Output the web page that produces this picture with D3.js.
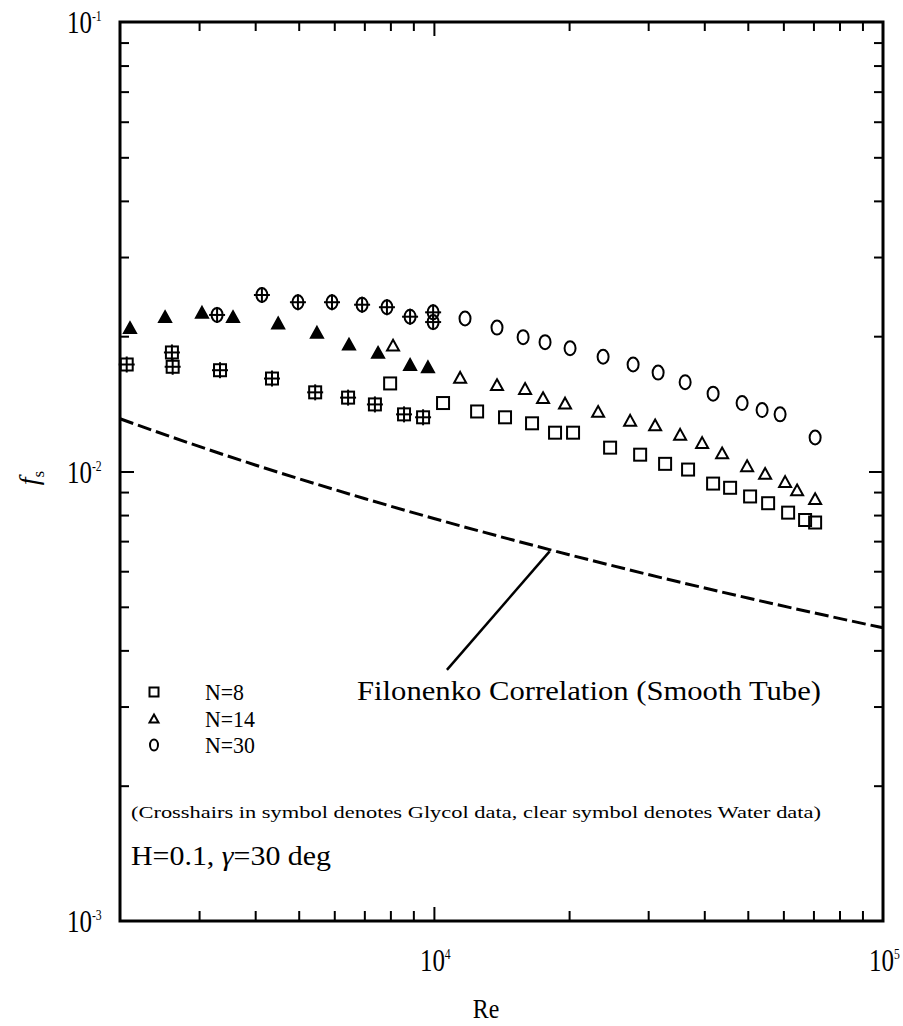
<!DOCTYPE html>
<html>
<head>
<meta charset="utf-8">
<script src="https://cdn.jsdelivr.net/npm/d3@7"></script>
<style>
  html, body { margin: 0; padding: 0; background: #fff; }
  svg { display: block; }
  text { font-family: "Liberation Serif", "Times New Roman", serif; fill: #000; }
</style>
</head>
<body>
<svg id="chart" width="903" height="1026"></svg>
<script>
// ---- data: friction factor vs Reynolds number ----
// N = 8 (squares)
const n8Glycol = [
  [2070, 0.0173], [2610, 0.0184], [2620, 0.0171], [3340, 0.0168], [4360, 0.0161],
  [5440, 0.0150], [6440, 0.0146], [7390, 0.0141], [8580, 0.0134], [9460, 0.0132]
];
const n8Water = [
  [7990, 0.0157], [10480, 0.0142], [12480, 0.0136], [14400, 0.0132], [16540, 0.0128],
  [18610, 0.0122], [20410, 0.0122], [24680, 0.0113], [28790, 0.0109], [32720, 0.0104],
  [36810, 0.0101], [41850, 0.0094], [45660, 0.0092], [50590, 0.0088], [55490, 0.0085],
  [61480, 0.0081], [67070, 0.0078], [70610, 0.0077]
];
// N = 14 (triangles)
const n14Glycol = [
  [2105, 0.0209], [2520, 0.0221], [3045, 0.0226], [3570, 0.0221], [4500, 0.0214],
  [5490, 0.0204], [6470, 0.0192], [7510, 0.0184], [8850, 0.0173], [9700, 0.0171]
];
const n14Water = [
  [8110, 0.0191], [11440, 0.0162], [13820, 0.0156], [15960, 0.0153], [17500, 0.0146],
  [19590, 0.0142], [23210, 0.0136], [27350, 0.0130], [31090, 0.0127], [35340, 0.0121],
  [39560, 0.0116], [43830, 0.0110], [49820, 0.0103], [54640, 0.0099], [60540, 0.0095],
  [64380, 0.0091], [70610, 0.0087]
];
// N = 30 (circles)
const n30Glycol = [
  [3290, 0.0223], [4140, 0.0247], [4980, 0.0238], [5930, 0.0238], [6920, 0.0235],
  [7860, 0.0232], [8850, 0.0221], [9960, 0.0226], [9960, 0.0215]
];
const n30Water = [
  [11730, 0.0219], [13820, 0.0209], [15800, 0.0199], [17680, 0.0194], [20100, 0.0188],
  [23810, 0.0180], [27770, 0.0173], [31570, 0.0166], [36260, 0.0158], [41850, 0.0149],
  [48560, 0.0142], [53800, 0.0137], [59000, 0.0134], [70610, 0.0119]
];
// Filonenko smooth-tube correlation curve
const filonenko = [
  [2000, 0.0131], [3000, 0.01137], [4000, 0.01034], [5000, 0.00964], [7000, 0.00871],
  [10000, 0.00786], [15000, 0.00704], [20000, 0.00653], [30000, 0.00590],
  [50000, 0.00523], [70000, 0.00485], [100000, 0.00449]
];
// leader from the caption to the curve
const leader = [[10690, 0.00362], [18100, 0.00664]];

const xTicks = [3000, 4000, 5000, 6000, 7000, 8000, 9000, 10000,
                20000, 30000, 40000, 50000, 60000, 70000, 80000, 90000];
const yTicks = [0.002, 0.003, 0.004, 0.005, 0.006, 0.007, 0.008, 0.009, 0.01,
                0.02, 0.03, 0.04, 0.05, 0.06, 0.07, 0.08, 0.09];
const xTickLabels = [[10000, "10", "4"], [100000, "10", "5"]];
const yTickLabels = [[0.1, "10", "-1"], [0.01, "10", "-2"], [0.001, "10", "-3"]];
const legendItems = [["square", "N=8"], ["triangle", "N=14"], ["circle", "N=30"]];

// ---- layout ----
const svg = d3.select("#chart");
const L = 120, R = 883, T = 22, B = 921;
const x = d3.scaleLog().domain([2000, 100000]).range([L, R]);
const y = d3.scaleLog().domain([0.001, 0.1]).range([B, T]);
const isMajor = v => Math.abs(Math.log10(v) - Math.round(Math.log10(v))) < 1e-9;

// ---- axes (ticks point inward on all four sides) ----
function cleanAxis(g) {
  g.select(".domain").remove();
  g.selectAll(".tick text").remove();
  return g.selectAll(".tick line").attr("stroke", "#000").attr("stroke-width", 2);
}
cleanAxis(svg.append("g").attr("transform", `translate(0,${B})`)
  .call(d3.axisTop(x).tickValues(xTicks).tickSize(0)))
  .attr("y2", d => isMajor(d) ? -14 : -10);
cleanAxis(svg.append("g").attr("transform", `translate(0,${T})`)
  .call(d3.axisBottom(x).tickValues(xTicks).tickSize(0)))
  .attr("y2", d => isMajor(d) ? 14 : 9);
cleanAxis(svg.append("g").attr("transform", `translate(${L},0)`)
  .call(d3.axisRight(y).tickValues(yTicks).tickSize(0)))
  .attr("x2", d => isMajor(d) ? 14 : 9);
cleanAxis(svg.append("g").attr("transform", `translate(${R},0)`)
  .call(d3.axisLeft(y).tickValues(yTicks).tickSize(0)))
  .attr("x2", d => isMajor(d) ? -14 : -9);

// frame
svg.append("rect").attr("x", L).attr("y", T).attr("width", R - L).attr("height", B - T)
  .attr("fill", "none").attr("stroke", "#000").attr("stroke-width", 3);

// tick labels with superscript exponents (tall, narrow lettering)
function powerLabel(px, py, base, exp) {
  const t = svg.append("text")
    .attr("transform", `translate(${px},${py}) scale(0.78,1)`)
    .attr("font-size", 32);
  t.append("tspan").text(base);
  t.append("tspan").attr("dy", -12).attr("font-size", 15).text(exp);
}
xTickLabels.forEach(([v, b, e]) => powerLabel(x(v) - 14, 971, b, e));
yTickLabels.forEach(([v, b, e]) => powerLabel(67, y(v) + 11, b, e));

// axis titles
svg.append("text").attr("transform", "translate(486,1018) scale(0.85,1)")
  .attr("text-anchor", "middle").attr("font-size", 28).text("Re");
const yt = svg.append("text").attr("transform", "translate(38,478) rotate(-90)")
  .attr("text-anchor", "middle").attr("font-size", 28);
yt.append("tspan").attr("font-style", "italic").text("f");
yt.append("tspan").attr("dy", 6).attr("font-size", 17).text("s");

// ---- Filonenko curve ----
const line = d3.line().x(d => x(d[0])).y(d => y(d[1])).curve(d3.curveMonotoneX);
svg.append("path").datum(filonenko).attr("d", line)
  .attr("fill", "none").attr("stroke", "#000").attr("stroke-width", 3)
  .attr("stroke-dasharray", "14,5");
svg.append("line")
  .attr("x1", x(leader[0][0])).attr("y1", y(leader[0][1]))
  .attr("x2", x(leader[1][0])).attr("y2", y(leader[1][1]))
  .attr("stroke", "#000").attr("stroke-width", 2.5);
svg.append("text").attr("x", 357).attr("y", 700).attr("font-size", 27)
  .attr("textLength", 464).attr("lengthAdjust", "spacingAndGlyphs")
  .text("Filonenko Correlation (Smooth Tube)");

// ---- markers ----
function drawSymbol(g, shape, cx, cy, s, opts) {
  const sw = opts.sw || 2;
  if (shape === "square") {
    g.append("rect").attr("x", cx - s / 2).attr("y", cy - s / 2)
      .attr("width", s).attr("height", s)
      .attr("fill", opts.fill ? "#000" : "none").attr("stroke", "#000").attr("stroke-width", sw);
  } else if (shape === "triangle") {
    const h = s * 0.9;
    g.append("path")
      .attr("d", `M${cx},${cy - h / 2}L${cx + s / 2},${cy + h / 2}L${cx - s / 2},${cy + h / 2}Z`)
      .attr("fill", opts.fill ? "#000" : "none").attr("stroke", "#000").attr("stroke-width", sw);
  } else {
    g.append("ellipse").attr("cx", cx).attr("cy", cy).attr("rx", s / 2 - 0.5).attr("ry", s / 2 + 1)
      .attr("fill", opts.fill ? "#000" : "none").attr("stroke", "#000").attr("stroke-width", sw);
  }
  if (opts.cross) {
    const c = s / 2 + 2;
    g.append("line").attr("x1", cx - c).attr("x2", cx + c).attr("y1", cy).attr("y2", cy)
      .attr("stroke", "#000").attr("stroke-width", 2);
    g.append("line").attr("x1", cx).attr("x2", cx).attr("y1", cy - c).attr("y2", cy + c)
      .attr("stroke", "#000").attr("stroke-width", 2);
  }
}
const marks = svg.append("g");
const seriesList = [
  [n8Water, "square", {}],
  [n14Water, "triangle", {}],
  [n30Water, "circle", {}],
  [n8Glycol, "square", { cross: true }],
  [n14Glycol, "triangle", { fill: true }],
  [n30Glycol, "circle", { cross: true }]
];
seriesList.forEach(([data, shape, opts]) => {
  data.forEach(d => drawSymbol(marks, shape, x(d[0]), y(d[1]), 12, opts));
});

// ---- legend ----
legendItems.forEach(([shape, label], i) => {
  const cy = 692 + i * 26.5;
  drawSymbol(svg, shape, 154, cy, 9, {});
  svg.append("text").attr("transform", `translate(205,${cy + 8}) scale(0.95,1)`)
    .attr("font-size", 23).text(label);
});

// ---- notes ----
svg.append("text").attr("x", 131).attr("y", 818).attr("font-size", 17)
  .attr("textLength", 690).attr("lengthAdjust", "spacingAndGlyphs")
  .text("(Crosshairs in symbol denotes Glycol data, clear symbol denotes Water data)");
const note = svg.append("text").attr("x", 131).attr("y", 865).attr("font-size", 28)
  .attr("textLength", 200).attr("lengthAdjust", "spacingAndGlyphs");
note.append("tspan").text("H=0.1, ");
note.append("tspan").attr("font-style", "italic").text("γ");
note.append("tspan").text("=30 deg");
</script>
</body>
</html>
